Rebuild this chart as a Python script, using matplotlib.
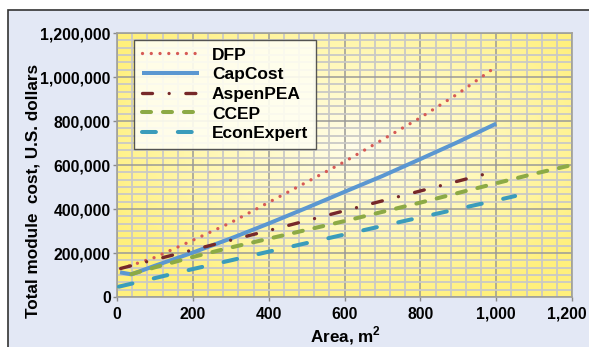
import matplotlib
matplotlib.use('Agg')
import matplotlib.pyplot as plt
import matplotlib.transforms as mtransforms
import numpy as np
from matplotlib.ticker import MultipleLocator, FuncFormatter
from matplotlib.patches import Rectangle
from matplotlib.colors import LinearSegmentedColormap

# values (area in m2, cost in US$)
dfp_area = [10, 100, 200, 300, 400, 500, 600, 700, 800, 900, 990]
dfp_cost = [128000, 180000, 258000, 338000, 430000, 522000, 615000, 715000, 815000, 925000, 1035000]

capcost_area = [8, 38, 100, 200, 300, 400, 500, 600, 700, 800, 900, 1000]
capcost_cost = [112000, 103000, 142000, 202000, 266000, 334000, 405000, 478000, 550000, 627000, 705000, 788000]

aspen_area = [10, 200, 400, 600, 800, 1000]
aspen_cost = [130000, 214000, 302000, 392000, 482000, 572000]

ccep_area = [38, 100, 200, 300, 400, 500, 600, 700, 800, 900, 1000, 1100, 1200]
ccep_cost = [104000, 135000, 182000, 225000, 265000, 305000, 345000, 387000, 429000, 473000, 517000, 560000, 600000]

econ_area = [5, 200, 400, 600, 800, 1000, 1050]
econ_cost = [47000, 127000, 206000, 284000, 362000, 439000, 459000]

xticks = [0, 200, 400, 600, 800, 1000, 1200]
yticks = [0, 200000, 400000, 600000, 800000, 1000000, 1200000]

plt.rcParams['font.family'] = ['Liberation Sans', 'DejaVu Sans']
plt.rcParams['font.weight'] = 'bold'
plt.rcParams['mathtext.fontset'] = 'custom'
plt.rcParams['mathtext.rm'] = 'Liberation Sans:bold'
plt.rcParams['mathtext.bf'] = 'Liberation Sans:bold'
plt.rcParams['lines.scale_dashes'] = False

fig = plt.figure(figsize=(5.89, 3.47), dpi=100)
fig.patch.set_facecolor('white')
fig.add_artist(Rectangle((8 / 589, -0.05), 1.1, 1.05 - 9.5 / 347, transform=fig.transFigure,
                         facecolor='#e3e8f5', edgecolor='#333333', lw=1.2, zorder=0))

ax = fig.add_axes([117 / 589, 1 - 297 / 347, 455 / 589, 264 / 347])

# yellow background, lighter in the middle
yy, xx = np.mgrid[0:1:200j, 0:1:300j]
d = np.sqrt(((xx - 0.52) / 0.6) ** 2 + ((yy - 0.58) / 0.65) ** 2)
d = np.clip(d, 0, 1)
cmap = LinearSegmentedColormap.from_list('bg', ['#fffde8', '#fff8b8', '#fff07c'])
ax.imshow(d, cmap=cmap, extent=[0, 1, 0, 1], transform=ax.transAxes, origin='lower',
          aspect='auto', zorder=0, interpolation='bilinear')

ax.plot(dfp_area, dfp_cost, color='#d65a55', lw=2.4, dashes=(0.01, 6.3),
        dash_capstyle='round', label='DFP', zorder=3)
ax.plot(capcost_area, capcost_cost, color='#5b97d1', lw=2.9, solid_capstyle='butt',
        label='CapCost', zorder=3)
ax.plot(aspen_area, aspen_cost, color='#76282a', lw=2.4, dashes=(7.2, 12, 0.01, 12),
        dash_capstyle='round', label='AspenPEA', zorder=3)
ax.plot(ccep_area, ccep_cost, color='#8caa45', lw=2.9, dashes=(6.5, 8.6),
        dash_capstyle='round', label='CCEP', zorder=3)
ax.plot(econ_area, econ_cost, color='#3a9cbb', lw=2.9, dashes=(10, 15.8),
        dash_capstyle='round', label='EconExpert', zorder=3)

ax.set_xlim(0, 1200)
ax.set_ylim(0, 1200000)
ax.set_xticks(xticks)
ax.set_yticks(yticks)
ax.xaxis.set_minor_locator(MultipleLocator(40))
ax.yaxis.set_minor_locator(MultipleLocator(200000 / 6))
fmt = FuncFormatter(lambda v, p: '{:,.0f}'.format(v))
ax.xaxis.set_major_formatter(fmt)
ax.yaxis.set_major_formatter(fmt)
ax.set_axisbelow(True)
ax.grid(which='minor', color='#c9c9c6', lw=1.3)
ax.grid(which='major', color='#9a9a98', lw=1.1)
ax.tick_params(which='minor', length=0)
ax.tick_params(which='major', length=3, width=1, color='#8a8a8a', labelsize=11.3)
ax.tick_params(axis='x', pad=4)
ax.tick_params(axis='y', pad=1.5)
for s in ax.spines.values():
    s.set_color('#a0a09a')
    s.set_linewidth(1.2)

# last x label sits a little inside the figure edge
lbl = ax.get_xticklabels()[-1]
lbl.set_transform(lbl.get_transform() + mtransforms.ScaledTranslation(-5 / 100, 0, fig.dpi_scale_trans))

ax.set_xlabel(r'Area, m$^{\mathbf{2}}$', fontsize=12.3, fontweight='bold')
ax.xaxis.set_label_coords(0.503, -0.105)
ax.set_ylabel('Total module  cost, U.S. dollars', fontsize=12.3, fontweight='bold')
ax.yaxis.set_label_coords(-0.168, 0.40)

leg = ax.legend(loc='upper left', bbox_to_anchor=(0.037, 0.975), borderaxespad=0,
                fontsize=12.5, handlelength=3.3, handletextpad=0.75, labelspacing=0.26,
                borderpad=0.45, fancybox=False, framealpha=0.9)
leg.get_frame().set_facecolor('#fffff2')
leg.get_frame().set_edgecolor('#444444')
leg.get_frame().set_linewidth(1.0)
for t in leg.get_texts():
    t.set_fontweight('bold')

fig.savefig('out.png', dpi=100)
